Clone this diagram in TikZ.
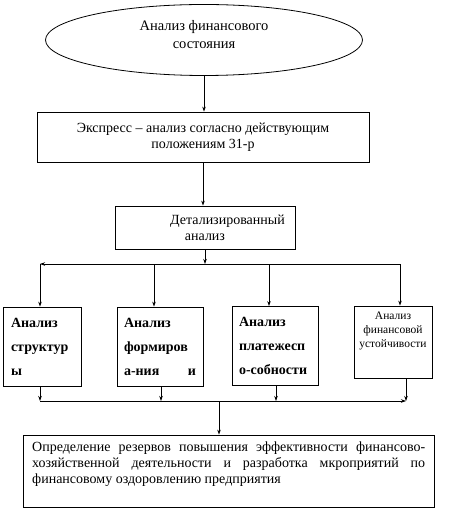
\documentclass[tikz,border=0pt]{standalone}
\usepackage{fontspec}
\setmainfont{Liberation Serif}
\usetikzlibrary{shapes.geometric,arrows.meta}

\begin{document}
\begin{tikzpicture}[x=1pt,y=-1pt,
  box/.style={draw,rectangle,inner sep=0pt,line width=0.8pt},
  part/.style={box,minimum width=#1,minimum height=79pt,align=left,
    font=\bfseries\fontsize{14}{24}\selectfont},
  arr/.style={-{Stealth[length=5pt,width=3.5pt]},line width=0.7pt},
  every node/.style={font=\fontsize{14}{16}\selectfont}]

\useasboundingbox (0,0) rectangle (452,510);

% the two upper levels
\node[draw,ellipse,line width=0.8pt,minimum width=317pt,minimum height=71pt] (ell) at (204,40) {};
\node[align=center,inner sep=0pt,font=\fontsize{14.5}{18}\selectfont] (elltxt) at (204,35)
  {Анализ финансового\\состояния};
\node[box,minimum width=332pt,minimum height=50pt,align=center] (expr) at (203,137)
  {Экспресс – анализ согласно действующим\\положениям 31-р};
\node[box,minimum width=180pt,minimum height=43pt,align=center] (det) at (205,227.5)
  {\hspace*{45pt}Детализированный\\анализ};

% the four parts of the detailed analysis
\node[part=78pt,text width=62pt] (b1) at (42,346.5)
  {Анализ\\структур\\ы};
\node[part=86pt,text width=72pt] (b2) at (160,346.5)
  {Анализ\\формиров\\а-ния\hfill и};
\node[part=86pt,text width=72pt] (b3) at (275,346)
  {Анализ\\платежесп\\о-собности};
\node[box,minimum width=78pt,minimum height=72pt] (b4) at (393,342) {};
\node[align=center,inner sep=0pt,
  font=\fontsize{11.5}{14}\selectfont] (b4txt) at (393,331)
  {Анализ\\финансовой\\устойчивости};

% the result
\node[box,minimum width=411pt,minimum height=72pt] (fin) at (228.5,471) {};
\node[anchor=north west,inner sep=0pt,text width=393pt,align=justify] (fintxt) at (32,442)
  {\hyphenpenalty 10000\relax
   Определение резервов повышения эффективности финансово-\linebreak
   хозяйственной деятельности и разработка мкроприятий по\linebreak
   финансовому оздоровлению предприятия};

% bus lines ("264" and "401" are the heights of the two busses)
\foreach \x [count=\i] in {40,154,269,400} { \coordinate (up\i) at (\x,264); }
\foreach \x [count=\i] in {40,161,276,406} { \coordinate (dn\i) at (\x,401); }
\coordinate (mid) at (219,401);

\draw[arr] (ell.south) -- (ell.south |- expr.north);
\draw[arr] (expr.south) -- (expr.south |- det.north);
\draw[arr] (det.south) -- (det.south |- up1);
\draw[arr] (det.south |- up1) -- (up1);
\draw[line width=0.7pt] (det.south |- up1) -- (up4);
\foreach \i/\b in {1/b1,2/b2,3/b3,4/b4} {
  \draw[arr] (up\i) -- (up\i |- \b.north);
  \draw[arr] (dn\i |- \b.south) -- (dn\i);
}
\draw[arr] (dn1) -- (dn4);
\draw[arr] (mid) -- (mid |- fin.north);
\end{tikzpicture}
\end{document}
